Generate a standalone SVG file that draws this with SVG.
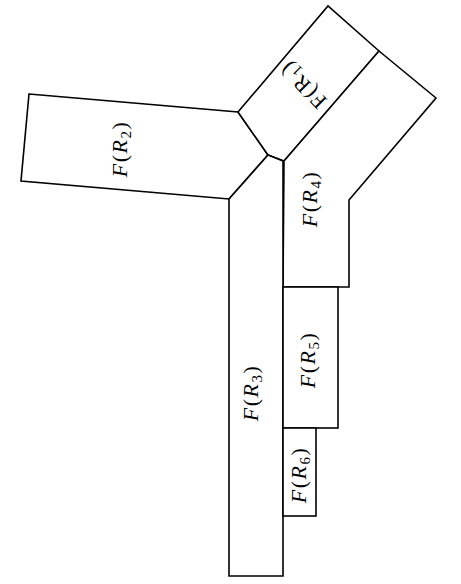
<svg xmlns="http://www.w3.org/2000/svg" width="461" height="584" viewBox="0 0 461 584">
<style>
.r{fill:#fff;stroke:#000;stroke-width:1.6;stroke-linejoin:miter}
.t{font-family:"Liberation Serif","DejaVu Serif",serif;font-size:22px;letter-spacing:1.5px;fill:#000}
.i{font-style:italic}
.s{font-size:15px}
</style>
<rect width="461" height="584" fill="#fff"/>
<g id="R2"><polygon class="r" points="29,94 238,112 268,155 229,199 21,181"/>
<text class="t" transform="translate(120,149) rotate(-90)" text-anchor="middle" dy="7"><tspan class="i">F</tspan>(<tspan class="i">R</tspan><tspan class="s" dy="4">2</tspan><tspan dy="-4">)</tspan></text></g>
<g id="R1"><polygon class="r" points="238,112 328,6 379,51 284,161 268,155"/>
<text class="t" transform="translate(303,85) rotate(225)" text-anchor="middle" dy="7">F(R<tspan class="s" dy="4">1</tspan><tspan dy="-4">)</tspan></text></g>
<g id="R4"><polygon class="r" points="284,161 379,51 436,98 349,200 349,287 283,287"/>
<text class="t" transform="translate(310,199) rotate(-90)" text-anchor="middle" dy="7"><tspan class="i">F</tspan>(<tspan class="i">R</tspan><tspan class="s" dy="4">4</tspan><tspan dy="-4">)</tspan></text></g>
<g id="R3"><polygon class="r" points="229,199 268,155 283,161 283,576 229,576"/>
<text class="t" transform="translate(251,393) rotate(-90)" text-anchor="middle" dy="7"><tspan class="i">F</tspan>(<tspan class="i">R</tspan><tspan class="s" dy="4">3</tspan><tspan dy="-4">)</tspan></text></g>
<g id="R5"><rect class="r" x="283" y="287" width="55" height="141"/>
<text class="t" transform="translate(308,360) rotate(-90)" text-anchor="middle" dy="7"><tspan class="i">F</tspan>(<tspan class="i">R</tspan><tspan class="s" dy="4">5</tspan><tspan dy="-4">)</tspan></text></g>
<g id="R6"><rect class="r" x="283" y="428" width="33" height="88"/>
<text class="t" transform="translate(299,475) rotate(-90)" text-anchor="middle" dy="7"><tspan class="i">F</tspan>(<tspan class="i">R</tspan><tspan class="s" dy="4">6</tspan><tspan dy="-4">)</tspan></text></g>
</svg>
